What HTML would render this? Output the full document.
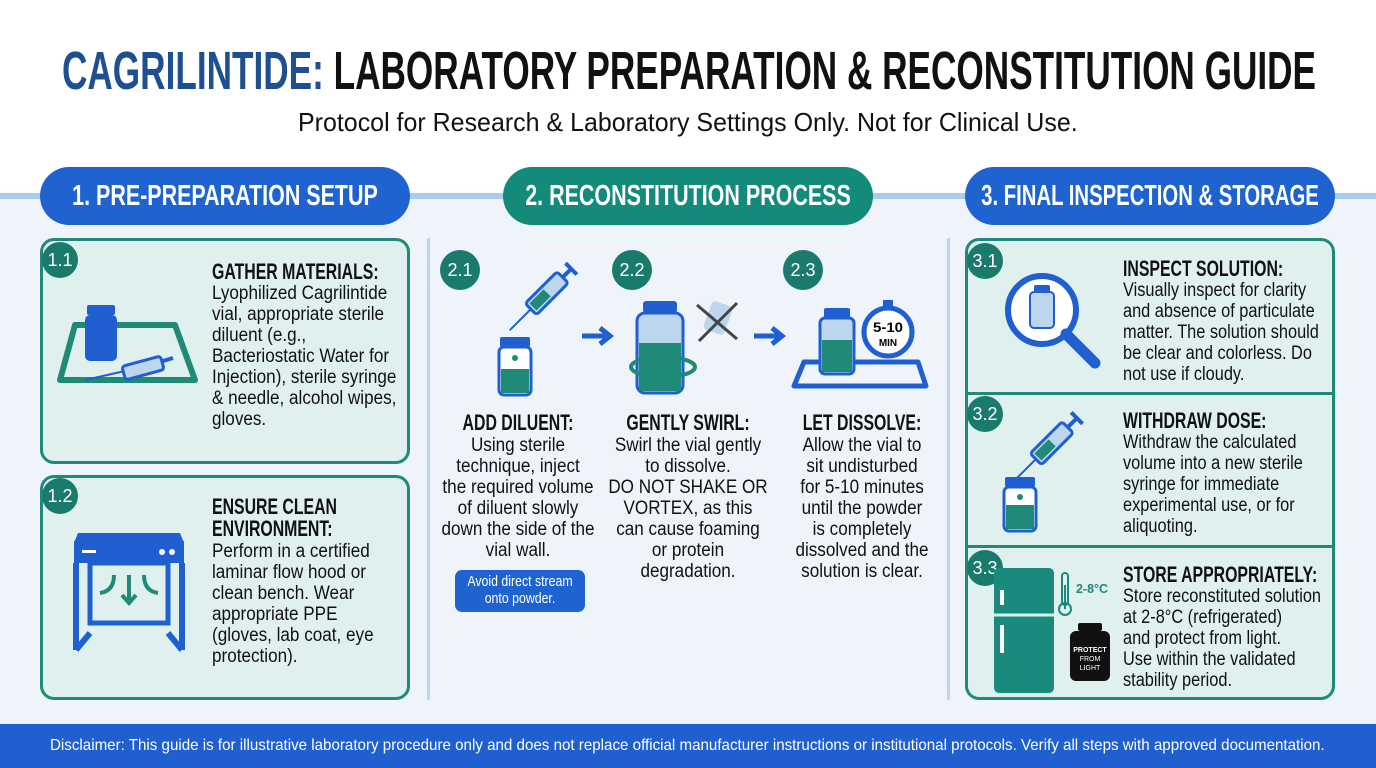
<!DOCTYPE html>
<html><head><meta charset="utf-8">
<style>
*{margin:0;padding:0;box-sizing:border-box}
body{width:1376px;height:768px;overflow:hidden;position:relative;font-family:"Liberation Sans",sans-serif;background:linear-gradient(#fff 0,#fff 190px,#eef4fa 200px,#eef4fa 100%)}
.a{position:absolute}
.fit{white-space:nowrap;transform-origin:left top;display:inline-block}
.t{left:62px;top:40px;font-size:54px;font-weight:bold;color:#111}
.sub{left:298px;top:107px;font-size:26px;color:#111}
.hline{left:0;top:193px;width:1376px;height:6px;background:#a9cdee}
.pill{top:167px;height:58px;width:370px;border-radius:29px;color:#fff;font-weight:bold;font-size:29px;line-height:58px}
.pill span{position:absolute;left:50%;top:0;white-space:nowrap;transform:translateX(-50%) scaleX(0.74)}
.card{background:#dff0ee;border:3px solid #1f8a78;border-radius:14px}
.badge{width:36px;height:36px;border-radius:50%;background:#1a7a6b;color:#fff;font-size:18px;text-align:center;line-height:36px}
.h{font-weight:bold;font-size:22px;color:#111;line-height:22px;white-space:nowrap;transform:scaleX(0.72);transform-origin:left top}
.p{font-size:19px;color:#111;line-height:21px;white-space:nowrap;transform:scaleX(0.9);transform-origin:left top}
.c{text-align:center;transform-origin:center top}
.vline{width:3px;background:#bcd6ee;top:238px;height:462px}
.foot{left:0;top:724px;width:1376px;height:44px;background:#1f5fcf;color:#fff;font-size:16px;line-height:44px;padding-left:50px}
</style></head><body>
<div class="a t"><span class="fit" style="width:1254px"><span style="color:#1d4f91">CAGRILINTIDE:</span> LABORATORY PREPARATION &amp; RECONSTITUTION GUIDE</span></div>
<div class="a sub"><span class="fit" style="width:780px">Protocol for Research &amp; Laboratory Settings Only. Not for Clinical Use.</span></div>
<div class="a hline"></div>
<div class="a pill" style="left:40px;background:#1f63d0"><span>1. PRE-PREPARATION SETUP</span></div>
<div class="a pill" style="left:503px;background:#138a7a"><span>2. RECONSTITUTION PROCESS</span></div>
<div class="a pill" style="left:965px;background:#1f63d0"><span style="transform:translateX(-50%) scaleX(0.7)">3. FINAL INSPECTION &amp; STORAGE</span></div>

<!-- col1 -->
<div class="a card" style="left:40px;top:238px;width:370px;height:226px"></div>
<div class="a badge" style="left:42px;top:242px">1.1</div>
<svg class="a" style="left:55px;top:295px" width="150" height="100" viewBox="0 0 150 100">
<path d="M20 30 H120 L140 85 H5 Z" fill="none" stroke="#1f8a78" stroke-width="6" stroke-linejoin="round"/>
<rect x="32" y="10" width="28" height="10" rx="2" fill="#1f5fcf"/><rect x="30" y="20" width="32" height="46" rx="5" fill="#1f5fcf"/>
<line x1="30" y1="85" x2="70" y2="76" stroke="#1f5fcf" stroke-width="2"/><rect x="68" y="66" width="40" height="14" rx="3" transform="rotate(-15 88 73)" fill="#bcd6ee" stroke="#1f5fcf" stroke-width="3"/><line x1="108" y1="66" x2="118" y2="63" stroke="#1f5fcf" stroke-width="4"/>
</svg>
<div class="a h" style="left:212px;top:261px">GATHER MATERIALS:</div>
<div class="a p" style="left:212px;top:283px">Lyophilized Cagrilintide<br>vial, appropriate sterile<br>diluent (e.g.,<br>Bacteriostatic Water for<br>Injection), sterile syringe<br>&amp; needle, alcohol wipes,<br>gloves.</div>

<div class="a card" style="left:40px;top:475px;width:370px;height:225px"></div>
<div class="a badge" style="left:42px;top:478px">1.2</div>
<svg class="a" style="left:70px;top:525px" width="118" height="130" viewBox="0 0 118 130">
<path d="M8 8 H110 L114 18 H4 Z" fill="#1f5fcf"/><rect x="4" y="16" width="110" height="22" fill="#1f5fcf"/>
<rect x="12" y="25" width="14" height="3" fill="#fff"/><circle cx="92" cy="27" r="3" fill="#fff"/><circle cx="102" cy="27" r="3" fill="#fff"/>
<path d="M6 38 V125 M112 38 V125 M6 125 L20 108 M112 125 L98 108" stroke="#1f5fcf" stroke-width="6" fill="none"/>
<rect x="20" y="38" width="78" height="60" fill="none" stroke="#1f5fcf" stroke-width="5"/>
<path d="M44 50 Q44 66 30 68 M59 50 V78 M52 70 L59 78 L66 70 M74 50 Q74 66 88 68" stroke="#1f8a78" stroke-width="4" fill="none"/>
</svg>
<div class="a h" style="left:212px;top:496px">ENSURE CLEAN<br>ENVIRONMENT:</div>
<div class="a p" style="left:212px;top:541px">Perform in a certified<br>laminar flow hood or<br>clean bench. Wear<br>appropriate PPE<br>(gloves, lab coat, eye<br>protection).</div>

<div class="a vline" style="left:427px"></div>
<div class="a vline" style="left:947px"></div>

<!-- col2 -->
<div class="a badge" style="left:440px;top:250px;width:40px;height:40px;line-height:40px">2.1</div>
<div class="a badge" style="left:612px;top:250px;width:40px;height:40px;line-height:40px">2.2</div>
<div class="a badge" style="left:783px;top:250px;width:40px;height:40px;line-height:40px">2.3</div>
<svg class="a" style="left:490px;top:255px" width="100" height="145" viewBox="0 0 100 145">
<g transform="rotate(-45 55 40)"><rect x="35" y="32" width="45" height="16" rx="3" fill="#bcd6ee" stroke="#1f5fcf" stroke-width="3"/><rect x="38" y="35" width="20" height="10" fill="#1f8a78"/><line x1="80" y1="40" x2="92" y2="40" stroke="#1f5fcf" stroke-width="4"/><line x1="92" y1="32" x2="92" y2="48" stroke="#1f5fcf" stroke-width="4"/><line x1="35" y1="40" x2="5" y2="40" stroke="#1f5fcf" stroke-width="2"/></g>
<rect x="10" y="82" width="30" height="10" rx="2" fill="#1f5fcf"/><rect x="9" y="92" width="32" height="48" rx="5" fill="#fff" stroke="#1f5fcf" stroke-width="3"/><rect x="11" y="114" width="28" height="24" fill="#1f8a78"/><circle cx="25" cy="103" r="3" fill="#1f8a78"/>
</svg>
<svg class="a" style="left:580px;top:320px" width="40" height="30"><path d="M2 16 H26 M20 8 L30 16 L20 24" stroke="#1f5fcf" stroke-width="5" fill="none"/></svg>
<svg class="a" style="left:625px;top:295px" width="125" height="100" viewBox="0 0 125 100">
<rect x="18" y="6" width="34" height="12" rx="3" fill="#1f5fcf"/><rect x="12" y="18" width="46" height="80" rx="8" fill="#bcd6ee" stroke="#1f5fcf" stroke-width="3"/><rect x="14" y="48" width="42" height="48" fill="#1f8a78"/>
<ellipse cx="38" cy="72" rx="32" ry="10" fill="none" stroke="#1f8a78" stroke-width="4"/>
<rect x="82" y="8" width="22" height="30" rx="4" fill="#bcd6ee" transform="rotate(20 93 23)"/><path d="M72 10 L112 44 M112 8 L74 46" stroke="#444" stroke-width="3"/>
</svg>
<svg class="a" style="left:752px;top:320px" width="40" height="30"><path d="M2 16 H26 M20 8 L30 16 L20 24" stroke="#1f5fcf" stroke-width="5" fill="none"/></svg>
<svg class="a" style="left:790px;top:290px" width="140" height="100" viewBox="0 0 140 100">
<path d="M14 72 H128 L136 96 H4 Z" fill="none" stroke="#1f5fcf" stroke-width="5" stroke-linejoin="round"/>
<rect x="34" y="18" width="26" height="10" rx="2" fill="#1f5fcf"/><rect x="30" y="28" width="34" height="56" rx="5" fill="#bcd6ee" stroke="#1f5fcf" stroke-width="3"/><rect x="32" y="50" width="30" height="32" fill="#1f8a78"/>
<circle cx="98" cy="42" r="24" fill="#fff" stroke="#1f5fcf" stroke-width="5"/><rect x="93" y="10" width="10" height="6" fill="#1f5fcf"/>
<text x="98" y="42" text-anchor="middle" font-size="14" font-weight="bold" font-family="Liberation Sans, sans-serif" textLength="30" lengthAdjust="spacingAndGlyphs">5-10</text><text x="98" y="56" text-anchor="middle" font-size="10" font-weight="bold" font-family="Liberation Sans, sans-serif">MIN</text>
</svg>
<div class="a h c" style="left:398px;top:412px;width:240px">ADD DILUENT:</div>
<div class="a p c" style="left:408px;top:435px;width:220px">Using sterile<br>technique, inject<br>the required volume<br>of diluent slowly<br>down the side of the<br>vial wall.</div>
<div class="a c" style="left:455px;top:570px;width:130px;height:42px;background:#1f63d0;border-radius:7px;color:#fff;font-size:14.5px;line-height:17px;padding-top:4px"><div style="transform:scaleX(0.85);white-space:nowrap">Avoid direct stream<br>onto powder.</div></div>
<div class="a h c" style="left:568px;top:412px;width:240px">GENTLY SWIRL:</div>
<div class="a p c" style="left:578px;top:435px;width:220px">Swirl the vial gently<br>to dissolve.<br>DO NOT SHAKE OR<br>VORTEX, as this<br>can cause foaming<br>or protein<br>degradation.</div>
<div class="a h c" style="left:742px;top:412px;width:240px">LET DISSOLVE:</div>
<div class="a p c" style="left:752px;top:435px;width:220px">Allow the vial to<br>sit undisturbed<br>for 5-10 minutes<br>until the powder<br>is completely<br>dissolved and the<br>solution is clear.</div>

<!-- col3 -->
<div class="a card" style="left:965px;top:238px;width:370px;height:462px"></div>
<div class="a" style="left:966px;top:392px;width:368px;height:3px;background:#1f8a78"></div>
<div class="a" style="left:966px;top:545px;width:368px;height:3px;background:#1f8a78"></div>
<div class="a badge" style="left:967px;top:243px">3.1</div>
<div class="a badge" style="left:967px;top:396px">3.2</div>
<div class="a badge" style="left:967px;top:550px">3.3</div>
<svg class="a" style="left:1000px;top:270px" width="105" height="100" viewBox="0 0 105 100">
<circle cx="42" cy="40" r="34" fill="#fff" stroke="#1f5fcf" stroke-width="6"/><line x1="66" y1="64" x2="95" y2="93" stroke="#1f5fcf" stroke-width="11" stroke-linecap="round"/>
<rect x="34" y="15" width="16" height="7" rx="2" fill="#1f5fcf"/><rect x="30" y="22" width="24" height="36" rx="4" fill="#bcd6ee" stroke="#1f5fcf" stroke-width="2"/>
</svg>
<svg class="a" style="left:1000px;top:405px" width="95" height="130" viewBox="0 0 95 130">
<g transform="rotate(-45 50 40)"><rect x="30" y="32" width="45" height="16" rx="3" fill="#bcd6ee" stroke="#1f5fcf" stroke-width="3"/><rect x="33" y="35" width="20" height="10" fill="#1f8a78"/><line x1="75" y1="40" x2="88" y2="40" stroke="#1f5fcf" stroke-width="4"/><line x1="88" y1="32" x2="88" y2="48" stroke="#1f5fcf" stroke-width="4"/><line x1="30" y1="40" x2="-5" y2="40" stroke="#1f5fcf" stroke-width="2"/></g>
<rect x="5" y="72" width="30" height="10" rx="2" fill="#1f5fcf"/><rect x="4" y="82" width="32" height="44" rx="5" fill="#fff" stroke="#1f5fcf" stroke-width="3"/><rect x="6" y="100" width="28" height="24" fill="#1f8a78"/><circle cx="20" cy="92" r="3" fill="#1f8a78"/>
</svg>
<svg class="a" style="left:990px;top:565px" width="130" height="130" viewBox="0 0 130 130">
<rect x="4" y="3" width="60" height="125" rx="5" fill="#1a8a7c"/><line x1="4" y1="50" x2="64" y2="50" stroke="#dff0ee" stroke-width="3"/>
<rect x="10" y="25" width="4" height="15" fill="#fff"/><rect x="10" y="60" width="4" height="28" fill="#fff"/>
<rect x="72" y="8" width="6" height="32" rx="3" fill="none" stroke="#1a8a7c" stroke-width="2"/><circle cx="75" cy="44" r="6" fill="none" stroke="#1a8a7c" stroke-width="2"/><line x1="75" y1="20" x2="75" y2="44" stroke="#1a8a7c" stroke-width="2"/>
<text x="86" y="28" font-size="13" font-weight="bold" fill="#1a8a7c" font-family="Liberation Sans, sans-serif" textLength="32" lengthAdjust="spacingAndGlyphs">2-8°C</text>
<rect x="88" y="58" width="24" height="8" rx="2" fill="#111"/><rect x="80" y="66" width="40" height="50" rx="6" fill="#111"/>
<text x="100" y="87" text-anchor="middle" font-size="7" fill="#fff" font-weight="bold" font-family="Liberation Sans, sans-serif">PROTECT</text><text x="100" y="96" text-anchor="middle" font-size="7" fill="#fff" font-family="Liberation Sans, sans-serif">FROM</text><text x="100" y="105" text-anchor="middle" font-size="7" fill="#fff" font-family="Liberation Sans, sans-serif">LIGHT</text>
</svg>
<div class="a h" style="left:1123px;top:258px">INSPECT SOLUTION:</div>
<div class="a p" style="left:1123px;top:280px;transform:scaleX(0.86)">Visually inspect for clarity<br>and absence of particulate<br>matter. The solution should<br>be clear and colorless. Do<br>not use if cloudy.</div>
<div class="a h" style="left:1123px;top:410px">WITHDRAW DOSE:</div>
<div class="a p" style="left:1123px;top:432px;transform:scaleX(0.86)">Withdraw the calculated<br>volume into a new sterile<br>syringe for immediate<br>experimental use, or for<br>aliquoting.</div>
<div class="a h" style="left:1123px;top:564px">STORE APPROPRIATELY:</div>
<div class="a p" style="left:1123px;top:586px;transform:scaleX(0.86)">Store reconstituted solution<br>at 2-8°C (refrigerated)<br>and protect from light.<br>Use within the validated<br>stability period.</div>

<div class="a foot"><span class="fit" style="width:1275px">Disclaimer: This guide is for illustrative laboratory procedure only and does not replace official manufacturer instructions or institutional protocols. Verify all steps with approved documentation.</span></div>
<script>
document.querySelectorAll('.fit').forEach(function(e){var w=parseFloat(e.style.width);e.style.width='auto';var s=e.scrollWidth;if(s>0){e.style.transform='scaleX('+(w/s)+')';}});
</script>
</body></html>
